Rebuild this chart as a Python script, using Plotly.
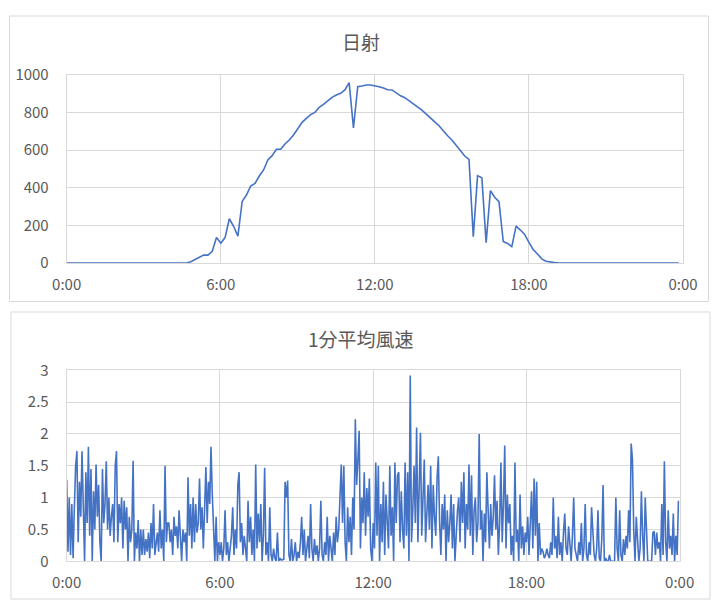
import pandas as pd
import plotly.graph_objs as go
from plotly.subplots import make_subplots

# 日射 (10-minute values, 0:00 - 23:50)
solar = [0, 0, 0, 0, 0, 0, 0, 0, 0, 0, 0, 0,
         0, 0, 0, 0, 0, 0, 3, 0, 0, 0, 0, 0,
         0, 0, 0, 0, 0, 7, 18, 32, 42, 42, 62, 135,
         105, 135, 235, 195, 143, 327, 361, 409, 423, 462, 494, 547,
         570, 604, 604, 632, 653, 680, 713, 747, 768, 788, 800, 827,
         842, 862, 880, 892, 901, 919, 958, 717, 936, 940, 945, 945,
         942, 936, 929, 920, 919, 904, 888, 878, 862, 848, 830, 812,
         791, 768, 749, 729, 701, 676, 653, 623, 596, 568, 550, 140,
         464, 453, 108, 384, 349, 326, 115, 104, 87, 196, 175, 152,
         110, 72, 48, 22, 9, 4, 2, 0, 0, 0, 0, 0,
         0, 0, 0, 0, 0, 0, 0, 0, 0, 0, 0, 0,
         0, 2, 3, 2, 0, 0, 0, 0, 0, 0, 0, 0]

# 1分平均風速 (one value per 3 minutes, 20 per hour)
wind = [
    1.28, 0.15, 1.0, 0.1, 0.9, 0.05, 0.85, 1.5, 1.73, 0.3, 1.25, 0.7, 1.73, 0.9, 0.0, 1.4, 0.6, 1.8, 0.4, 1.45,
    0.0, 1.1, 0.5, 1.52, 0.7, 1.2, 0.3, 0.0, 1.45, 0.6, 0.9, 1.57, 0.5, 1.0, 0.4, 0.7, 0.9, 0.3, 1.5, 1.73,
    0.3, 0.9, 0.6, 1.0, 0.2, 0.95, 0.5, 0.85, 0.0, 0.7, 0.3, 0.5, 1.58, 0.0, 0.45, 0.2, 0.65, 0.0, 0.5, 0.1,
    0.5, 0.1, 0.35, 0.15, 0.45, 0.05, 0.6, 0.2, 0.9, 0.1, 0.3, 0.45, 0.15, 0.8, 0.2, 0.5, 0.0, 1.5, 0.3, 0.6,
    0.6, 0.3, 0.5, 0.1, 0.7, 0.4, 0.55, 0.2, 0.8, 0.35, 0.0, 0.5, 0.3, 0.45, 0.0, 1.32, 0.4, 0.9, 0.2, 1.0,
    0.3, 0.9, 0.45, 0.6, 1.3, 0.5, 0.85, 0.2, 0.7, 1.48, 0.6, 1.25, 0.9, 1.8, 1.05, 0.4, 0.0, 0.7, 0.0, 0.3,
    0.1, 0.3, 0.0, 0.2, 0.8, 0.1, 0.3, 0.0, 0.25, 0.4, 0.85, 0.1, 0.5, 0.2, 1.2, 1.4, 0.3, 0.6, 0.1, 0.4,
    0.2, 0.0, 0.95, 0.3, 0.7, 0.1, 0.5, 0.0, 1.52, 0.2, 0.75, 0.3, 0.9, 0.0, 0.4, 1.47, 0.1, 0.3, 0.0, 0.85,
    0.1, 0.0, 0.2, 0.05, 0.0, 0.45, 0.0, 0.05, 0.02, 0.02, 0.03, 1.25, 1.0, 1.27, 0.1, 0.0, 0.35, 0.0, 0.1, 0.3,
    0.0, 0.15, 0.05, 0.3, 0.7, 0.1, 0.5, 0.0, 0.2, 0.4, 0.05, 0.9, 0.2, 0.0, 0.35, 0.1, 0.25, 0.0, 0.2, 0.95,
    0.1, 0.0, 0.3, 0.1, 0.7, 0.0, 0.4, 0.2, 0.0, 0.45, 0.1, 0.7, 0.3, 0.5, 1.1, 1.52, 0.6, 1.5, 0.3, 0.0,
    0.85, 0.3, 0.7, 0.1, 1.0, 0.5, 2.23, 1.2, 1.6, 2.05, 0.2, 1.0, 0.6, 1.4, 0.4, 1.15, 0.7, 1.3, 0.2, 0.0,
    0.6, 0.2, 1.55, 0.4, 1.5, 0.0, 0.9, 0.3, 1.25, 0.1, 1.05, 0.5, 0.2, 1.5, 0.4, 0.85, 0.0, 1.55, 0.6, 1.35,
    1.4, 0.3, 1.1, 0.5, 0.2, 1.55, 0.4, 1.4, 0.0, 2.92, 0.3, 0.8, 1.5, 0.6, 2.1, 0.3, 1.2, 2.02, 0.4, 0.9,
    1.6, 0.3, 0.9, 1.2, 0.5, 1.5, 0.2, 1.2, 0.7, 0.4, 1.3, 1.65, 0.6, 0.1, 0.9, 0.5, 1.05, 0.0, 0.8, 0.3,
    0.6, 1.05, 0.2, 0.9, 0.0, 0.5, 0.8, 1.0, 0.3, 1.25, 0.6, 1.4, 0.2, 0.9, 0.5, 1.52, 0.4, 1.35, 0.1, 0.8,
    1.0, 0.3, 0.6, 2.0, 0.5, 0.8, 0.0, 0.75, 0.3, 1.4, 0.6, 0.2, 0.9, 0.4, 0.7, 1.35, 0.5, 0.95, 0.1, 0.6,
    1.55, 0.3, 0.9, 1.82, 0.2, 1.05, 0.6, 0.9, 0.1, 0.4, 0.0, 1.55, 0.3, 0.5, 0.0, 1.05, 0.2, 0.55, 0.1, 0.45,
    0.3, 0.7, 0.1, 0.5, 1.1, 0.2, 1.3, 0.4, 1.25, 0.0, 0.6, 0.1, 0.2, 0.15, 0.05, 0.1, 0.2, 0.1, 0.05, 0.3,
    0.1, 1.0, 0.2, 0.4, 0.05, 0.7, 0.1, 0.3, 0.0, 0.45, 0.75, 0.2, 0.1, 0.55, 0.3, 0.0, 0.4, 1.0, 0.2, 0.1,
    0.0, 0.3, 0.1, 0.6, 0.0, 0.2, 0.9, 0.1, 0.0, 0.3, 0.1, 0.85, 0.5, 0.1, 0.0, 0.2, 0.8, 0.05, 0.0, 0.35,
    1.2, 0.0, 0.05, 0.0, 0.0, 0.1, 0.0, 0.0, 0.0, 0.0, 1.0, 0.2, 0.0, 0.8, 0.1, 0.0, 0.35, 0.1, 0.4, 0.2,
    0.8, 0.3, 1.85, 1.6, 0.5, 0.0, 0.7, 0.4, 0.0, 0.2, 1.1, 0.4, 0.0, 1.0, 0.3, 0.0, 0.0, 0.0, 0.0, 0.45,
    0.47, 0.1, 0.45, 0.2, 0.3, 0.0, 0.9, 0.1, 1.57, 0.3, 0.0, 0.8, 0.2, 0.4, 0.1, 0.75, 0.0, 0.4, 0.1, 0.95,
]

day = "2020-01-01"
solar_t = pd.date_range(day, periods=len(solar), freq="10min")
wind_t = pd.date_range(day, periods=len(wind), freq="3min")

# the page body has an 8px margin, so the figure is drawn 8px in from the window edge
OFF = 8
W, H = 724 - OFF, 612 - OFF


def px(x):
    return (x - OFF) / W


def py(y):
    return 1 - (y - OFF) / H


grey = "#595959"
grid = "#d9d9d9"
blue = "#4472C4"
font = "Noto Sans CJK JP"

fig = make_subplots(rows=2, cols=1)
fig.add_trace(go.Scatter(x=solar_t, y=solar, mode="lines",
                         line=dict(color=blue, width=1.6)), row=1, col=1)
fig.add_trace(go.Scatter(x=wind_t, y=wind, mode="lines",
                         line=dict(color=blue, width=1.6)), row=2, col=1)

xcommon = dict(type="date", range=[day + " 00:00", "2020-01-02 00:00"],
               tick0=day, dtick=6 * 3600 * 1000, tickformat="%-H:%M",
               showgrid=True, gridcolor=grid, showline=True, mirror=True,
               linecolor=grid, zeroline=False, ticks="", automargin=False,
               ticklabelstandoff=8, tickfont=dict(size=15, color=grey))
ycommon = dict(showgrid=True, gridcolor=grid, showline=True, mirror=True,
               linecolor=grid, zeroline=False, ticks="", automargin=False,
               ticklabelstandoff=14, tickfont=dict(size=15, color=grey))

fig.update_xaxes(domain=[px(66.7), px(683)], row=1, col=1, **xcommon)
fig.update_xaxes(domain=[px(66.7), px(679.7)], row=2, col=1, **xcommon)
fig.update_yaxes(domain=[py(263), py(74.7)], range=[0, 1000],
                 dtick=200, row=1, col=1, **ycommon)
fig.update_yaxes(domain=[py(561.3), py(370.3)], range=[0, 3],
                 dtick=0.5, row=2, col=1, **ycommon)

# chart frames
for x0, y0, x1, y1 in [(9.5, 16, 708.5, 301.5), (11, 312, 710, 599)]:
    fig.add_shape(type="rect", xref="paper", yref="paper",
                  x0=px(x0), x1=px(x1), y0=py(y1), y1=py(y0),
                  line=dict(color=grid, width=1))

for text, ypx in [("日射", 41), ("1分平均風速", 338)]:
    fig.add_annotation(text=text, xref="paper", yref="paper",
                       x=px(361), y=py(ypx), showarrow=False,
                       xanchor="center", yanchor="middle",
                       font=dict(size=19, color=grey, family=font))

fig.update_layout(width=W, height=H, margin=dict(l=0, r=0, t=0, b=0),
                  showlegend=False, paper_bgcolor="white", plot_bgcolor="white",
                  font=dict(family=font, color=grey))

fig.write_html("out.html")
